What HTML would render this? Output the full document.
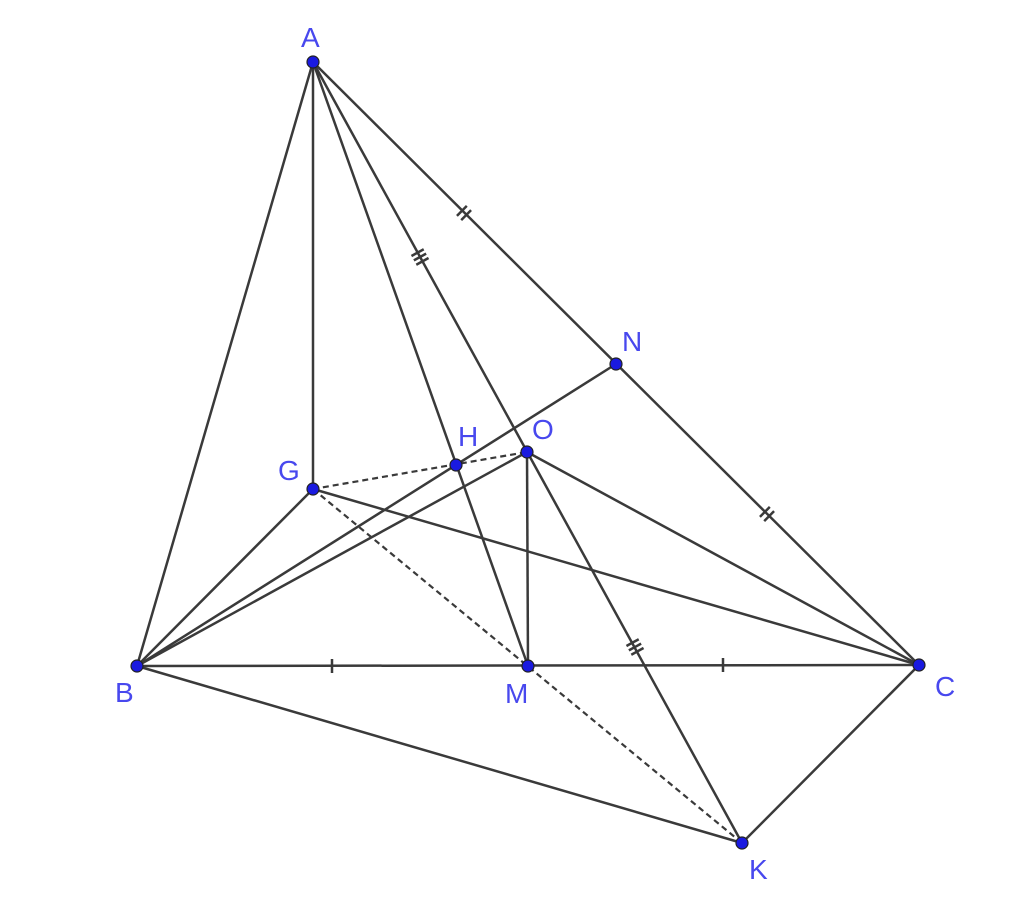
<!DOCTYPE html>
<html><head><style>
html,body{margin:0;padding:0;background:#fff;}
svg{display:block;}
text{font-family:"Liberation Sans",sans-serif;font-size:28px;}
</style></head><body>
<svg width="1024" height="909" viewBox="0 0 1024 909">
<g stroke="#3a3a3a" stroke-width="2.5" fill="none">
<line x1="313" y1="62" x2="137" y2="666"/>
<line x1="313" y1="62" x2="919" y2="665"/>
<line x1="313" y1="62" x2="313" y2="489"/>
<line x1="313" y1="62" x2="528" y2="666"/>
<line x1="313" y1="62" x2="742" y2="843"/>
<line x1="137" y1="666" x2="919" y2="665"/>
<line x1="137" y1="666" x2="616" y2="364"/>
<line x1="137" y1="666" x2="527" y2="452"/>
<line x1="137" y1="666" x2="313" y2="489"/>
<line x1="137" y1="666" x2="742" y2="843"/>
<line x1="313" y1="489" x2="919" y2="665"/>
<line x1="527" y1="452" x2="919" y2="665"/>
<line x1="527" y1="452" x2="528" y2="666"/>
<line x1="919" y1="665" x2="742" y2="843"/>
</g>
<g stroke="#3a3a3a" stroke-width="2.2" stroke-dasharray="6,4" fill="none">
<line x1="313" y1="489" x2="742" y2="843"/>
<line x1="313" y1="489" x2="527" y2="452"/>
</g>
<g stroke="#3a3a3a" stroke-width="2.5">
<g transform="translate(464,213) rotate(44.85)"><line x1="-3" y1="-7" x2="-3" y2="7"/><line x1="3" y1="-7" x2="3" y2="7"/></g>
<g transform="translate(767,514) rotate(44.85)"><line x1="-3" y1="-7" x2="-3" y2="7"/><line x1="3" y1="-7" x2="3" y2="7"/></g>
<g transform="translate(420,257) rotate(61.1)"><line x1="-5" y1="-7" x2="-5" y2="7"/><line x1="0" y1="-7" x2="0" y2="7"/><line x1="5" y1="-7" x2="5" y2="7"/></g>
<g transform="translate(635,647) rotate(61.1)"><line x1="-5" y1="-7" x2="-5" y2="7"/><line x1="0" y1="-7" x2="0" y2="7"/><line x1="5" y1="-7" x2="5" y2="7"/></g>
<line x1="332" y1="659" x2="332" y2="673"/>
<line x1="723" y1="658" x2="723" y2="672"/>
</g>
<g fill="#1a1ae0" stroke="#222" stroke-width="1.2">
<circle cx="313" cy="62" r="6"/><circle cx="137" cy="666" r="6"/><circle cx="919" cy="665" r="6"/>
<circle cx="528" cy="666" r="6"/><circle cx="616" cy="364" r="6"/><circle cx="527" cy="452" r="6"/>
<circle cx="456" cy="465" r="6"/><circle cx="313" cy="489" r="6"/><circle cx="742" cy="843" r="6"/>
</g>
<g fill="#4848ee">
<text x="301" y="47">A</text>
<text x="115" y="702">B</text>
<text x="935" y="696">C</text>
<text x="505" y="703">M</text>
<text x="622" y="351">N</text>
<text x="532" y="439">O</text>
<text x="458" y="446">H</text>
<text x="278" y="480">G</text>
<text x="749" y="879">K</text>
</g>
</svg>
</body></html>
